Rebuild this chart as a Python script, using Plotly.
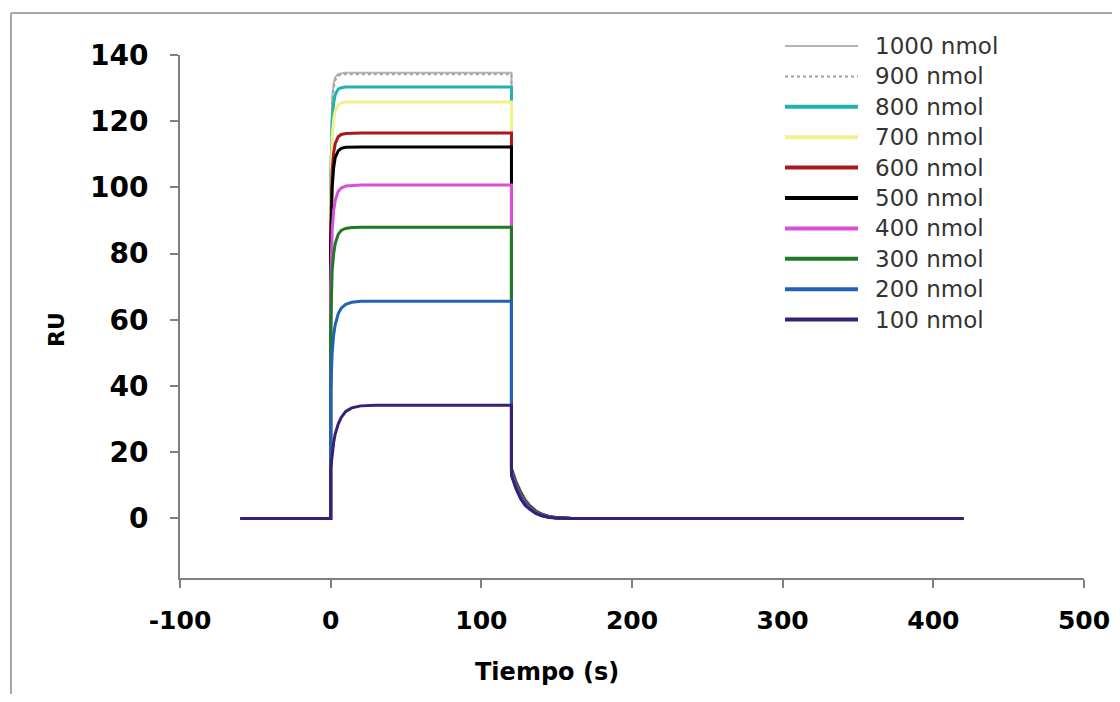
import plotly.graph_objects as go

# ---- data ----
time_s = [-60, 0, 0, 1, 2, 3, 5, 7, 10, 14, 20, 30, 120,
          120, 121, 123, 126, 129, 132, 136, 140, 145, 150, 160, 420]

ru_1000 = [0, 0, 107, 127, 131.5, 133.3, 134.3, 134.5, 134.6, 134.6, 134.6, 134.6, 134.6,
           15.5, 14, 11.5, 8.5, 6, 4.2, 2.5, 1.45, 0.6, 0.22, 0, 0]
ru_900 = [0, 0, 105, 125, 130, 132.3, 133.7, 134.1, 134.2, 134.2, 134.2, 134.2, 134.2,
          15.4, 13.9, 11.4, 8.4, 5.9, 4.1, 2.45, 1.4, 0.6, 0.2, 0, 0]
ru_800 = [0, 0, 100, 120, 125.5, 128, 129.7, 130.1, 130.3, 130.3, 130.3, 130.3, 130.3,
          15.2, 13.7, 11.2, 8.2, 5.8, 4.0, 2.4, 1.35, 0.55, 0.2, 0, 0]
ru_700 = [0, 0, 95, 115, 120.5, 123, 124.9, 125.5, 125.8, 125.8, 125.8, 125.8, 125.8,
          15, 13.5, 11, 8, 5.6, 3.9, 2.3, 1.3, 0.55, 0.2, 0, 0]
ru_600 = [0, 0, 86, 105, 110.5, 113.2, 115.3, 116, 116.3, 116.4, 116.4, 116.4, 116.4,
          14.8, 13.3, 10.8, 7.8, 5.4, 3.8, 2.2, 1.25, 0.5, 0.18, 0, 0]
ru_500 = [0, 0, 82, 100, 106, 109, 111, 111.8, 112.1, 112.2, 112.2, 112.2, 112.2,
          14.6, 13.1, 10.6, 7.6, 5.2, 3.7, 2.1, 1.2, 0.5, 0.17, 0, 0]
ru_400 = [0, 0, 70, 87, 93, 96, 98.8, 99.8, 100.4, 100.6, 100.7, 100.7, 100.7,
          14.3, 12.8, 10.3, 7.3, 5.0, 3.5, 2.0, 1.1, 0.45, 0.15, 0, 0]
ru_300 = [0, 0, 58, 75, 80, 83, 85.8, 87, 87.6, 87.9, 88, 88, 88,
          14, 12.5, 10, 7, 4.8, 3.3, 1.9, 1.0, 0.4, 0.14, 0, 0]
ru_200 = [0, 0, 38, 50, 55.5, 58.5, 61.8, 63.5, 64.7, 65.3, 65.6, 65.6, 65.6,
          13.5, 12, 9.6, 6.6, 4.5, 3.1, 1.7, 0.9, 0.35, 0.12, 0, 0]
ru_100 = [0, 0, 15, 20, 23, 25.5, 28.5, 30.5, 32.3, 33.4, 34.0, 34.2, 34.2,
          13, 11.5, 9, 6, 4, 2.8, 1.5, 0.8, 0.3, 0.1, 0, 0]

series_names = ["1000 nmol", "900 nmol", "800 nmol", "700 nmol", "600 nmol",
                "500 nmol", "400 nmol", "300 nmol", "200 nmol", "100 nmol"]
series_values = [ru_1000, ru_900, ru_800, ru_700, ru_600,
                 ru_500, ru_400, ru_300, ru_200, ru_100]
x_ticks = [-100, 0, 100, 200, 300, 400, 500]
y_ticks = [0, 20, 40, 60, 80, 100, 120, 140]

# ---- styles ----
colors = ["#b4b4b4", "#a0a0a0", "#22b3b0", "#f2f28a", "#a8181c",
          "#000000", "#d84fd8", "#1f7a25", "#2262b4", "#3a1f78"]
dashes = ["solid", "dot", "solid", "solid", "solid",
          "solid", "solid", "solid", "solid", "solid"]
widths = [2, 2, 3, 3, 3, 3, 3, 3, 3, 3]

fig = go.Figure()
for name, vals, c, d, w in zip(series_names, series_values, colors, dashes, widths):
    fig.add_trace(go.Scatter(x=time_s, y=vals, mode="lines", name=name,
                             line=dict(color=c, dash=d, width=w),
                             showlegend=False))

# page offset of the plot div (body margin on every side)
OFF = 8
FIG_W, FIG_H = 1120 - 2 * OFF, 702 - 2 * OFF
# plot area in screen pixels
L, R, T, B = 180, 1084, 55, 578
W, H = R - L, B - T
def px(xp):
    return (xp - L) / W
def py(yp):
    return (B - yp) / H

shapes = []
annotations = []
# manual legend
for i, (name, c, d) in enumerate(zip(series_names, colors, dashes)):
    yrow = py(46 + i * 30.4)
    shapes.append(dict(type="line", xref="paper", yref="paper",
                       x0=px(785), x1=px(858), y0=yrow, y1=yrow,
                       line=dict(color=c, dash=d, width=4 if d == "solid" and i > 0 else 2)))
    annotations.append(dict(xref="paper", yref="paper", x=px(873), y=yrow,
                            text=name, showarrow=False, xanchor="left", yanchor="middle",
                            font=dict(family="DejaVu Sans", size=23, color="#333333")))

# outer frame (top and left edges visible)
shapes.append(dict(type="line", xref="paper", yref="paper", x0=px(11), x1=px(1125),
                   y0=py(13), y1=py(13), line=dict(color="#a8a8a8", width=2)))
shapes.append(dict(type="line", xref="paper", yref="paper", x0=px(11), x1=px(11),
                   y0=py(13), y1=py(710), line=dict(color="#a8a8a8", width=2)))

# axis titles
annotations.append(dict(xref="paper", yref="paper", x=px(56), y=py(330), text="RU",
                        textangle=-90, showarrow=False, xanchor="center", yanchor="middle",
                        font=dict(family="DejaVu Sans", size=22, color="#000000", weight="bold")))
annotations.append(dict(xref="paper", yref="paper", x=px(547), y=py(672), text="Tiempo (s)",
                        showarrow=False, xanchor="center", yanchor="middle",
                        font=dict(family="DejaVu Sans", size=24, color="#000000", weight="bold")))

fig.update_layout(
    width=FIG_W, height=FIG_H,
    margin=dict(l=L - OFF, r=FIG_W - (R - OFF), t=T - OFF, b=FIG_H - (B - OFF)),
    paper_bgcolor="white", plot_bgcolor="white",
    shapes=shapes, annotations=annotations,
    showlegend=False,
)
fig.update_xaxes(range=[-100, 500], tickvals=x_ticks, ticktext=[str(v) for v in x_ticks],
                 showgrid=False, zeroline=False, showline=True, linecolor="#808080", linewidth=2,
                 ticks="outside", ticklen=8, tickcolor="#808080", tickwidth=2,
                 ticklabelstandoff=11, automargin=False,
                 tickfont=dict(family="DejaVu Sans", size=25, color="#000000", weight="bold"))
fig.update_yaxes(range=[-18, 140], tickvals=y_ticks, ticktext=[str(v) for v in y_ticks],
                 showgrid=False, zeroline=False, showline=True, linecolor="#808080", linewidth=2,
                 ticks="outside", ticklen=8, tickcolor="#808080", tickwidth=2,
                 ticklabelstandoff=16, automargin=False,
                 tickfont=dict(family="DejaVu Sans", size=28, color="#000000", weight="bold"))

fig.write_html("out.html")
